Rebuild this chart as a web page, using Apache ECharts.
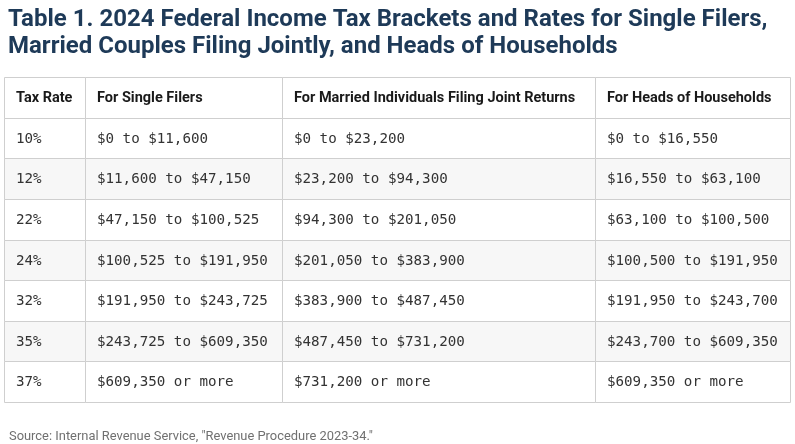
<!DOCTYPE html>
<html>
<head>
<meta charset="utf-8">
<script src="https://cdn.jsdelivr.net/npm/echarts@6/dist/echarts.min.js"></script>
<style>
html,body{margin:0;padding:0;background:#fff;}
#chart{width:795px;height:444px;}
</style>
</head>
<body>
<div id="chart"></div>
<script>
const titleText = 'Table 1. 2024 Federal Income Tax Brackets and Rates for Single Filers,\nMarried Couples Filing Jointly, and Heads of Households';
const sourceText = 'Source: Internal Revenue Service, "Revenue Procedure 2023-34."';
const columns = ['Tax Rate', 'For Single Filers', 'For Married Individuals Filing Joint Returns', 'For Heads of Households'];
const taxRates = ['10%', '12%', '22%', '24%', '32%', '35%', '37%'];
const singleFilers = ['$0 to $11,600', '$11,600 to $47,150', '$47,150 to $100,525', '$100,525 to $191,950', '$191,950 to $243,725', '$243,725 to $609,350', '$609,350 or more'];
const marriedJoint = ['$0 to $23,200', '$23,200 to $94,300', '$94,300 to $201,050', '$201,050 to $383,900', '$383,900 to $487,450', '$487,450 to $731,200', '$731,200 or more'];
const headsOfHouseholds = ['$0 to $16,550', '$16,550 to $63,100', '$63,100 to $100,500', '$100,500 to $191,950', '$191,950 to $243,700', '$243,700 to $609,350', '$609,350 or more'];

// layout (style): column edge fractions of the table width
const colEdges = [0, 0.1031, 0.3537, 0.7519, 1];

const rowKeys = ['header'].concat(taxRates);
const cells = [];
columns.forEach((c, ci) => cells.push([ci, 0, c]));
const bodyCols = [taxRates, singleFilers, marriedJoint, headsOfHouseholds];
taxRates.forEach((r, ri) => {
  bodyCols.forEach((col, ci) => cells.push([ci, ri + 1, col[ri]]));
});

const chart = echarts.init(document.getElementById('chart'));
chart.setOption({
  animation: false,
  backgroundColor: '#fff',
  title: [{
    text: titleText,
    left: 3, top: 1,
    textStyle: { fontFamily: 'Roboto', fontWeight: 'bold', fontSize: 24, color: '#1e3a58', lineHeight: 27 }
  }, {
    text: sourceText,
    left: 4, top: 425,
    textStyle: { fontFamily: 'Roboto', fontWeight: 'normal', fontSize: 12.9, color: '#707070' }
  }],
  grid: { left: 4, right: 5, top: 77, height: 325 },
  xAxis: { type: 'value', min: 0, max: 1, show: false },
  yAxis: { type: 'category', data: rowKeys, inverse: true, show: false },
  series: [{
    type: 'custom',
    data: cells,
    encode: { x: 0, y: 1 },
    renderItem: function (params, api) {
      const ci = api.value(0);
      const ri = api.value(1);
      const item = cells[params.dataIndex];
      const p0 = api.coord([colEdges[ci], ri]);
      const p1 = api.coord([colEdges[ci + 1], ri]);
      const h = api.size([0, 1])[1];
      const x0 = Math.round(p0[0]) + 0.5;
      const x1 = Math.round(p1[0]) + 0.5;
      const y0 = Math.round(p0[1] - h / 2) + 0.5;
      const y1 = Math.round(p0[1] + h / 2) + 0.5;
      const isHeader = ri === 0;
      const fill = (!isHeader && ri % 2 === 0) ? '#f7f7f7' : '#ffffff';
      return {
        type: 'group',
        children: [{
          type: 'rect',
          shape: { x: x0, y: y0, width: x1 - x0, height: y1 - y0 },
          style: { fill: fill, stroke: '#cfcfcf', lineWidth: 1 }
        }, {
          type: 'text',
          style: {
            x: x0 + 11.5,
            y: (y0 + y1) / 2 + (isHeader ? 0 : 0.5),
            text: item[2],
            textVerticalAlign: 'middle',
            verticalAlign: 'middle',
            fill: isHeader ? '#1a1a1a' : '#333',
            font: isHeader ? 'bold 14.5px Roboto' : '14.2px "DejaVu Sans Mono"'
          }
        }]
      };
    }
  }]
});
</script>
</body>
</html>
